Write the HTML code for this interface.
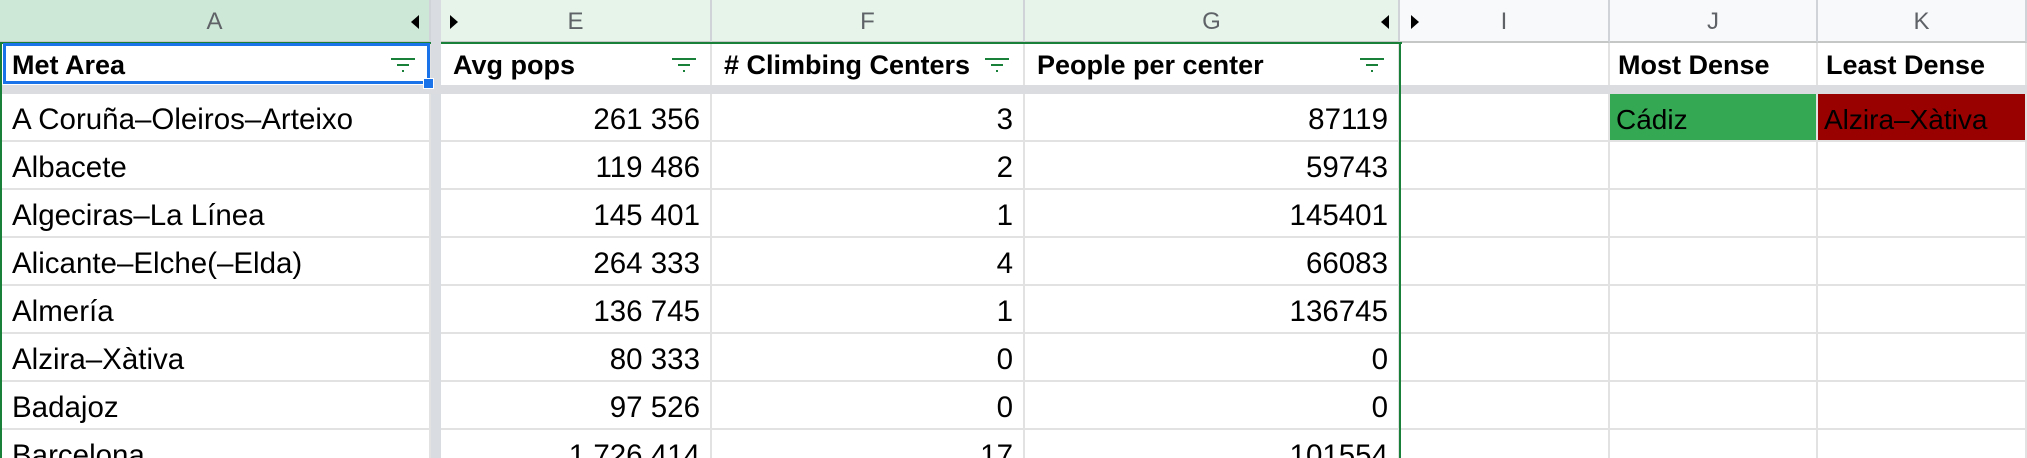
<!DOCTYPE html>
<html><head><meta charset="utf-8">
<style>
html{overflow:hidden;height:458px}
body{margin:0;width:2027px;height:458px;overflow:hidden;background:#fff;font-family:"Liberation Sans",Arial,sans-serif;position:relative}
.c{position:absolute;box-sizing:border-box;overflow:hidden;white-space:nowrap}
.ch{color:#5f6368;font-size:24px;text-align:center;line-height:43px;border-right:2px solid #d0d4d8;border-bottom:2px solid #c4c7c5}
.hd{font-weight:bold;font-size:27px;line-height:44px;padding-left:12px;border-right:2px solid #e2e2e2;color:#000}
.d{font-size:29.5px;line-height:51px;border-right:2px solid #e2e2e2;border-bottom:2px solid #e2e2e2;color:#000}
.l{padding-left:12px}.r{text-align:right;padding-right:10px}
.fi{position:absolute;right:14px;top:15px;width:24px;height:15px}
</style></head><body>
<div id="root"></div>
<script>
const cols=[{k:'A',x:0,w:431},{k:'E',x:441,w:271},{k:'F',x:712,w:313},{k:'G',x:1025,w:375},{k:'I',x:1400,w:210},{k:'J',x:1610,w:208},{k:'K',x:1818,w:209}];
const names=['A Coruña–Oleiros–Arteixo','Albacete','Algeciras–La Línea','Alicante–Elche(–Elda)','Almería','Alzira–Xàtiva','Badajoz','Barcelona'];
const pops=['261 356','119 486','145 401','264 333','136 745','80 333','97 526','1 726 414'];
const centers=['3','2','1','4','1','0','0','17'];
const perCenter=['87119','59743','145401','66083','136745','0','0','101554'];
const heads={A:'Met Area',E:'Avg pops',F:'# Climbing Centers',G:'People per center',I:'',J:'Most Dense',K:'Least Dense'};
const root=document.body;
function mk(cls,x,y,w,h,txt){const d=document.createElement('div');d.className='c '+cls;d.style.left=x+'px';d.style.top=y+'px';d.style.width=w+'px';d.style.height=h+'px';d.textContent=txt;root.appendChild(d);return d;}
const bgs={A:'#cde8d6',E:'#e6f4ea',F:'#e6f4ea',G:'#e6f4ea',I:'#f8f9fa',J:'#f8f9fa',K:'#f8f9fa'};
cols.forEach(c=>{
 const h=mk('ch',c.x,0,c.w,43,c.k);h.style.background=bgs[c.k];
 
 
 const hd=mk('hd',c.x,43,c.w,42,heads[c.k]);
 if(c.k==='J'||c.k==='K')hd.style.paddingLeft='8px';
 
 
 if('AEFG'.includes(c.k)){
  hd.innerHTML+='<svg class="fi" viewBox="0 0 24 15"><rect x="0" y="0" width="24" height="2" fill="#188038"/><rect x="6" y="6" width="12" height="2" fill="#188038"/><rect x="11" y="12" width="2" height="2" fill="#188038"/></svg>';
 }
 for(let i=0;i<names.length;i++){
  const y=94+i*48;let t='',cls='d r';
  if(c.k==='A'){t=names[i];cls='d l';}
  else if(c.k==='E')t=pops[i];
  else if(c.k==='F')t=centers[i];
  else if(c.k==='G')t=perCenter[i];
  else if(c.k==='J'&&i===0){t='Cádiz';cls='d l';}
  else if(c.k==='K'&&i===0){t='Alzira–Xàtiva';cls='d l';}
  const d=mk(cls,c.x,y,c.w,48,t);
  if(c.k==='J'&&i===0)d.style.background='#34a853';
  if(c.k==='K'&&i===0)d.style.background='#990000';
  if((c.k==='J'||c.k==='K')&&i===0){d.style.fontSize='28px';d.style.paddingLeft='6px';}
  
  
 }
});
function arrow(x,dir){const a=document.createElement('div');a.className='c';a.style.left=x+'px';a.style.top=15+'px';a.style.width='0';a.style.height='0';a.style.borderTop='7px solid transparent';a.style.borderBottom='7px solid transparent';if(dir==='l')a.style.borderRight='8px solid #000';else a.style.borderLeft='8px solid #000';root.appendChild(a);

}
arrow(411,'l');arrow(450,'r');arrow(1381,'l');arrow(1411,'r');
const fv=mk('',431,0,10,458,'');fv.style.background='#d9dce1';


const fh=mk('',0,85,2027,9,'');fh.style.background='#dadce0';


const g1=mk('',0,42,431,2,'');g1.style.background='#188038';


const g2=mk('',441,42,961,2,'');g2.style.background='#188038';


const g3=mk('',1399,42,2,416,'');g3.style.background='#188038';


const g4=mk('',0,42,2,416,'');g4.style.background='#188038';


const s=mk('',3,43,427,41,'');s.style.border='3px solid #1a73e8';


const sh=mk('',423,78,11,11,'');sh.style.background='#1a73e8';sh.style.border='1px solid #fff';


</script>
</body></html>
